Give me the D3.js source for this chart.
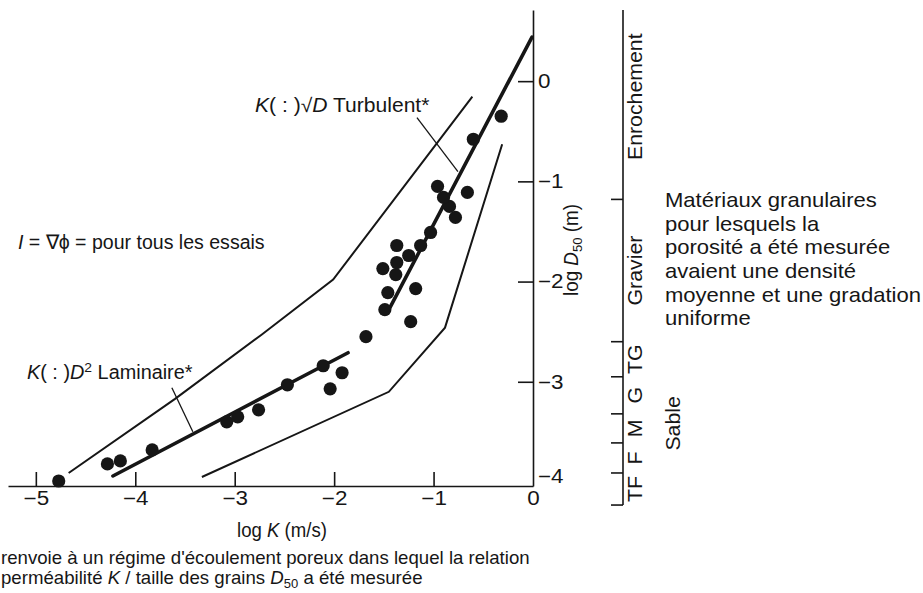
<!DOCTYPE html>
<html><head><meta charset="utf-8">
<script src="https://cdn.jsdelivr.net/npm/d3@7"></script>
<style>
html,body{margin:0;padding:0;background:#fff;overflow:hidden;}
svg{display:block;font-family:"Liberation Sans",Arial,Helvetica,sans-serif;fill:#141414;}
</style></head><body>
<svg id="chart" width="923" height="593"></svg>
<script>
// Measured samples: log K (m/s) against log D50 (m)
const logK = [-4.77,-4.28,-4.15,-3.83,-3.08,-2.97,-2.76,-2.47,-2.11,-1.92,-2.04,-1.68,-1.23,-1.49,-1.46,-1.18,-1.51,-1.38,-1.37,-1.37,-1.25,-1.13,-1.03,-0.78,-0.84,-0.90,-0.96,-0.66,-0.60,-0.32];
const logD = [-3.99,-3.82,-3.79,-3.68,-3.40,-3.35,-3.28,-3.03,-2.84,-2.91,-3.07,-2.55,-2.40,-2.28,-2.11,-2.07,-1.87,-1.93,-1.81,-1.64,-1.74,-1.64,-1.51,-1.36,-1.25,-1.16,-1.05,-1.11,-0.58,-0.35];

// Envelope of the data cloud
const upperK = [-4.67,-3.60,-2.73,-2.01,-0.61];
const upperD = [-3.91,-3.17,-2.53,-1.98,-0.155];
const lowerK = [-3.33,-1.45,-0.885,-0.31];
const lowerD = [-3.95,-3.10,-2.46,-0.63];

// Regime trend lines
const laminarK = [-4.225,-1.86];
const laminarD = [-3.94,-2.71];
const turbulentK = [-1.46,-0.01];
const turbulentD = [-2.30,0.44];

// Leader lines from the regime labels
const turbLeaderK = [-1.167,-0.755];
const turbLeaderD = [-0.364,-0.903];
const lamLeaderK = [-3.632,-3.421];
const lamLeaderD = [-3.059,-3.498];

// Axis ticks
const xTicks = [-5,-4,-3,-2,-1,0];
const yTicks = [0,-1,-2,-3,-4];

// Grain-size classes (log D50 boundaries, top to bottom)
const classBounds = [0.71,-1.18,-2.60,-2.95,-3.32,-3.61,-3.91,-4.23];
const classNames = ["Enrochement","Gravier","TG","G","M","F","TF"];
const sandGroup = {name:"Sable", from:-2.60, to:-4.23};

const noteLines = ["Matériaux granulaires","pour lesquels la","porosité a été mesurée","avaient une densité","moyenne et une gradation","uniforme"];

const svg = d3.select("#chart");
const ink = "#161616";

const x = d3.scaleLinear().domain([-5.28, 0]).range([8, 533]);
const y = d3.scaleLinear().domain([-4.04, 0.71]).range([486, 10]);
const fmt = d3.format("d");

// ---- axes ----
const xAxis = d3.axisBottom(x).tickValues(xTicks).tickFormat(fmt).tickSizeInner(-14).tickSizeOuter(0).tickPadding(5);
const gx = svg.append("g").attr("transform", `translate(0,${y.range()[0]})`).call(xAxis);
const yAxis = d3.axisRight(y).tickValues(yTicks).tickFormat(fmt).tickSizeInner(-15).tickSizeOuter(0).tickPadding(5);
const gy = svg.append("g").attr("transform", `translate(${x.range()[1]},0)`).call(yAxis);

[gx, gy].forEach(g => {
  g.select(".domain").attr("stroke", ink).attr("stroke-width", 1.6);
  g.selectAll(".tick line").attr("stroke", ink).attr("stroke-width", 1.6);
  g.selectAll(".tick text").attr("fill", ink).attr("font-size", 19.5).attr("font-family", null);
});
gx.selectAll(".tick").filter(d => d === 0).select("line").remove();
gy.selectAll(".tick").filter(d => d === -4).select("line").remove();
gy.selectAll(".tick").filter(d => d === -4).select("text").attr("dy", "0.05em");
gx.selectAll(".tick text").attr("transform", "scale(1.15,1)");
gy.selectAll(".tick text").attr("x", 5 / 1.15).attr("transform", "scale(1.15,1)");

// ---- helpers ----
function richText(parent, parts, size, anchor) {
  const t = parent.append("text").attr("font-size", size).attr("text-anchor", anchor || "start")
    .attr("dy", "0.35em").attr("fill", ink);
  let shift = 0;
  parts.forEach(p => {
    const s = t.append("tspan").text(p.t);
    if (p.i) s.attr("font-style", "italic");
    const target = p.sub ? 4 : p.sup ? -7 : 0;
    if (target !== shift) { s.attr("dy", target - shift); shift = target; }
    if (p.sub || p.sup) s.attr("font-size", size * 0.7);
  });
  return t;
}
function place(t, px, py, width, rot) {
  const w = t.node().getBBox().width;
  const sx = width ? width / w : 1;
  t.attr("transform", `translate(${px},${py})${rot ? " rotate(" + rot + ")" : ""} scale(${sx},1)`);
  return sx;
}

// ---- envelope and trend lines ----
const line = d3.line().x(d => x(d[0])).y(d => y(d[1]));
const plot = svg.append("g");
plot.append("path").datum(d3.zip(upperK, upperD)).attr("d", line)
  .attr("fill", "none").attr("stroke", ink).attr("stroke-width", 2);
plot.append("path").datum(d3.zip(lowerK, lowerD)).attr("d", line)
  .attr("fill", "none").attr("stroke", ink).attr("stroke-width", 2);
plot.append("path").datum(d3.zip(laminarK, laminarD)).attr("d", line)
  .attr("fill", "none").attr("stroke", ink).attr("stroke-width", 3.6).attr("stroke-linecap", "round");
plot.append("path").datum(d3.zip(turbulentK, turbulentD)).attr("d", line)
  .attr("fill", "none").attr("stroke", ink).attr("stroke-width", 3.6).attr("stroke-linecap", "round");
plot.append("path").datum(d3.zip(turbLeaderK, turbLeaderD)).attr("d", line)
  .attr("fill", "none").attr("stroke", ink).attr("stroke-width", 1.3);
plot.append("path").datum(d3.zip(lamLeaderK, lamLeaderD)).attr("d", line)
  .attr("fill", "none").attr("stroke", ink).attr("stroke-width", 1.3);

// ---- samples ----
plot.selectAll("circle").data(d3.zip(logK, logD)).join("circle")
  .attr("cx", d => x(d[0])).attr("cy", d => y(d[1])).attr("r", 6.6).attr("fill", ink);

// ---- annotations ----
const ann = svg.append("g");
place(richText(ann, [{t:"K",i:1},{t:"( : )√"},{t:"D",i:1},{t:" Turbulent*"}], 19.5), 255, 105, 175);
place(richText(ann, [{t:"I",i:1},{t:" = ∇ϕ = pour tous les essais"}], 19.5), 18, 242, 247);
place(richText(ann, [{t:"K",i:1},{t:"( : )"},{t:"D",i:1},{t:"2",sup:1},{t:" Laminaire*"}], 19.5), 27, 372, 166);

// axis titles
place(richText(ann, [{t:"log "},{t:"K",i:1},{t:" (m/s)"}], 19.5), 237, 530, 90);
place(richText(ann, [{t:"log "},{t:"D",i:1},{t:"50",sub:1},{t:" (m)"}], 19.5, "middle"), 571, 250, 92, -90);

// footnote
const f1 = richText(ann, [{t:"renvoie à un régime d'écoulement poreux dans lequel la relation"}], 18);
const fsx = place(f1, 1, 558, 529);
const f2 = richText(ann, [{t:"perméabilité "},{t:"K",i:1},{t:" / taille des grains "},{t:"D",i:1},{t:"50",sub:1},{t:" a été mesurée"}], 18);
f2.attr("transform", `translate(1,578) scale(${fsx},1)`);

// ---- grain-size scale ----
const scaleX = 623;
const gs = svg.append("g");
gs.append("line").attr("x1", scaleX).attr("x2", scaleX)
  .attr("y1", y(classBounds[0])).attr("y2", y(classBounds[classBounds.length - 1]))
  .attr("stroke", ink).attr("stroke-width", 1.6);
gs.selectAll("line.b").data(classBounds.slice(1)).join("line").attr("class", "b")
  .attr("x1", scaleX - 12).attr("x2", scaleX).attr("y1", d => y(d)).attr("y2", d => y(d))
  .attr("stroke", ink).attr("stroke-width", 1.6);

let csx = null;
classNames.forEach((name, i) => {
  const cy = (y(classBounds[i]) + y(classBounds[i + 1])) / 2;
  const t = richText(gs, [{t:name}], 20.5, "middle");
  if (csx === null) csx = place(t, 635, cy - 8, 127, -90);
  else t.attr("transform", `translate(635,${cy}) rotate(-90) scale(${csx},1)`);
});
const sable = richText(gs, [{t:sandGroup.name}], 20.5, "middle");
sable.attr("transform", `translate(673,${(y(sandGroup.from) + y(sandGroup.to)) / 2}) rotate(-90) scale(${csx},1)`);

// side note
let nsx = null;
noteLines.forEach((s, i) => {
  const t = richText(gs, [{t:s}], 20.5);
  if (nsx === null) nsx = place(t, 665, 200, 212);
  else t.attr("transform", `translate(665,${200 + i * 23.6}) scale(${nsx},1)`);
});
</script>
</body></html>
